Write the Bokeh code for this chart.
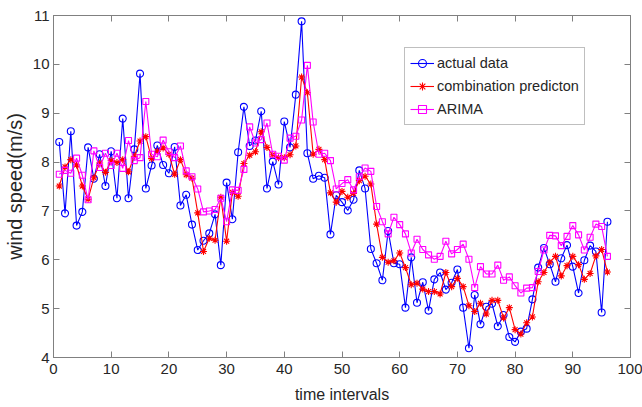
from bokeh.plotting import figure
from bokeh.models import LinearAxis, SingleIntervalTicker, Range1d, CustomJSTickFormatter
from bokeh.embed import file_html
from bokeh.resources import INLINE

x_vals = list(range(1, 97))

actual_data = [
    8.41, 6.95, 8.63, 6.70, 6.98, 8.30, 7.66, 8.16, 7.51, 8.22,
    7.26, 8.89, 7.26, 8.26, 9.81, 7.46, 7.93, 8.34, 7.94, 7.77,
    8.31, 7.11, 7.33, 6.72, 6.20, 6.39, 6.54, 6.93, 5.89, 7.58,
    6.83, 8.20, 9.13, 8.33, 8.44, 9.04, 7.46, 8.01, 7.54, 8.83,
    8.30, 9.38, 10.88, 8.18, 7.66, 7.72, 7.68, 6.52, 7.32, 7.18,
    7.01, 7.23, 7.83, 7.46, 6.22, 5.93, 5.58, 6.59, 5.93, 5.91,
    5.02, 6.05, 5.12, 5.54, 4.96, 5.60, 5.74, 5.39, 5.53, 5.80,
    5.02, 4.19, 5.28, 4.68, 5.04, 5.10, 4.64, 4.87, 4.42, 4.32,
    4.53, 4.59, 5.19, 5.84, 6.24, 5.91, 5.55, 6.03, 6.30, 5.86,
    5.32, 5.99, 6.29, 6.17, 4.92, 6.78,
]

combination_prediction = [
    7.51, 7.90, 8.05, 7.94, 7.51, 7.24, 7.68, 7.98, 7.79, 8.03,
    7.99, 8.05, 7.80, 8.12, 8.43, 8.52, 8.07, 8.22, 8.29, 8.16,
    7.75, 8.05, 7.74, 7.67, 6.96, 6.17, 6.44, 6.40, 7.28, 6.38,
    7.38, 7.30, 7.97, 8.14, 8.21, 8.62, 8.30, 8.15, 8.09, 8.09,
    8.15, 8.33, 9.74, 9.42, 8.16, 8.26, 8.05, 7.37, 7.18, 7.40,
    7.28, 7.36, 7.62, 7.71, 7.55, 6.73, 6.05, 5.95, 5.98, 6.14,
    5.84, 5.49, 5.52, 5.40, 5.35, 5.35, 5.30, 5.74, 5.45, 5.62,
    5.45, 5.06, 4.94, 5.11, 4.89, 5.17, 5.17, 4.81, 5.02, 4.57,
    4.48, 4.71, 4.83, 5.55, 5.74, 5.95, 6.07, 5.67, 5.88, 6.07,
    5.90, 5.60, 5.72, 6.08, 6.21, 5.75,
]

arima = [
    7.75, 7.83, 7.77, 8.08, 7.73, 7.23, 8.23, 7.89, 8.18, 7.93,
    8.18, 7.87, 8.44, 8.03, 8.09, 9.24, 8.16, 8.11, 8.45, 8.21,
    8.09, 8.33, 7.82, 7.70, 7.45, 6.98, 7.00, 7.03, 7.26, 6.78,
    7.43, 7.42, 7.85, 8.72, 8.39, 8.46, 8.80, 8.16, 8.12, 8.04,
    8.49, 8.53, 8.86, 9.98, 8.82, 8.16, 8.18, 8.03, 7.45, 7.56,
    7.64, 7.43, 7.70, 7.88, 7.81, 7.09, 6.78, 6.53, 6.87, 6.72,
    6.53, 6.14, 6.42, 6.21, 6.10, 6.01, 6.07, 6.38, 6.12, 6.21,
    6.32, 6.01, 5.43, 5.86, 5.71, 5.71, 5.89, 5.58, 5.65, 5.47,
    5.32, 5.42, 5.43, 5.76, 6.20, 6.50, 6.49, 6.29, 6.48, 6.70,
    6.51, 6.20, 6.46, 6.73, 6.68, 6.07,
]

series_labels = ["actual data", "combination predicton", "ARIMA"]
x_label = "time intervals"
y_label = "wind speed(m/s)"

FONT = "Liberation Sans"
GRAY = "#808080"
TXT = "#262626"

p = figure(width=642, height=407, output_backend="svg", toolbar_location=None,
           x_range=Range1d(0, 100), y_range=Range1d(4, 11),
           min_border_left=48, min_border_right=12, min_border_top=15, min_border_bottom=50)
p.xgrid.visible = False
p.ygrid.visible = False
p.outline_line_color = GRAY
p.outline_line_width = 1
p.background_fill_color = "white"
p.border_fill_color = "white"

for ax, interval in ((p.xaxis[0], 10), (p.yaxis[0], 1)):
    ax.ticker = SingleIntervalTicker(interval=interval)
    ax.major_tick_in = 6
    ax.major_tick_out = 0
    ax.minor_tick_in = 0
    ax.minor_tick_out = 0
    ax.axis_line_color = GRAY
    ax.major_tick_line_color = GRAY
    ax.major_label_text_font = FONT
    ax.major_label_text_font_size = "15px"
    ax.major_label_text_color = TXT
    ax.axis_label_text_font_style = "normal"
    ax.axis_label_text_color = TXT

p.xaxis.axis_label = x_label
p.xaxis.axis_label_text_font = FONT
p.xaxis.axis_label_text_font_size = "16px"
p.xaxis.major_label_standoff = 6
p.xaxis.axis_label_standoff = 9

p.yaxis.axis_label = y_label
p.yaxis.axis_label_text_font = FONT
p.yaxis.axis_label_text_font_size = "20px"
p.yaxis.major_label_standoff = 4
p.yaxis.axis_label_standoff = 4

blank = CustomJSTickFormatter(code="return ''")
for side, interval in (("above", 10), ("right", 1)):
    a = LinearAxis(ticker=SingleIntervalTicker(interval=interval), formatter=blank,
                   major_tick_in=6, major_tick_out=0, minor_tick_in=0, minor_tick_out=0,
                   axis_line_color=GRAY, major_tick_line_color=GRAY,
                   major_label_standoff=0)
    p.add_layout(a, side)

styles = [
    (actual_data, "#0000ff", "circle", 7),
    (combination_prediction, "#ff0000", "asterisk", 7),
    (arima, "#ff00ff", "square", 6),
]
for (vals, col, mk, sz), lab in zip(styles, series_labels):
    p.line(x_vals, vals, line_color=col, line_width=1.1, legend_label=lab)
    p.scatter(x_vals, vals, marker=mk, size=sz, line_color=col, fill_color=None,
              line_width=1.1, legend_label=lab)

lg = p.legend[0]
lg.location = (351, 232)
lg.border_line_color = GRAY
lg.border_line_width = 1
lg.background_fill_color = "white"
lg.background_fill_alpha = 1
lg.label_text_font = FONT
lg.label_text_font_size = "14.5px"
lg.label_text_color = TXT
lg.glyph_width = 24
lg.glyph_height = 20
lg.label_height = 20
lg.label_standoff = 3
lg.spacing = 3
lg.padding = 5
lg.margin = 0

open("out.html", "w").write(file_html(p, INLINE))
